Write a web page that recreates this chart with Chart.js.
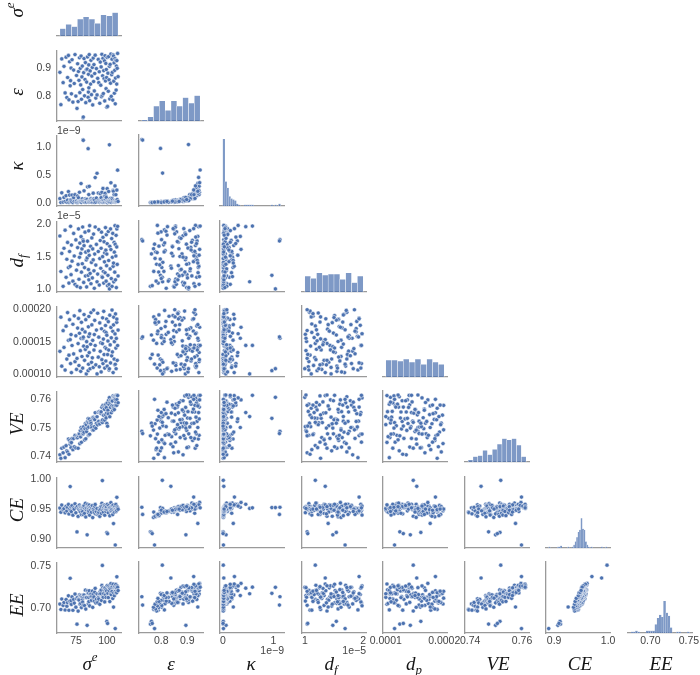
<!DOCTYPE html>
<html><head><meta charset="utf-8">
<script src="https://cdn.jsdelivr.net/npm/chart.js@4"></script>
<style>
html,body{margin:0;padding:0;background:#fff;}
body{width:700px;height:675px;overflow:hidden;position:relative;}
canvas{position:absolute;}
.lab{position:absolute;font-family:'Liberation Serif','DejaVu Serif',serif;font-style:italic;font-size:19px;color:#151515;white-space:nowrap;line-height:1;}
.lab sup{font-size:0.68em;position:relative;top:-0.15em;vertical-align:super;line-height:0;}
.lab sub{font-size:0.68em;vertical-align:sub;line-height:0;}
.off{position:absolute;font-family:'Liberation Sans',Arial,sans-serif;font-size:10.5px;color:#444;line-height:1;white-space:nowrap;}
</style></head><body>
<script>
// ---------------- data (one sample per index) ----------------
const sigmaE = [62.0,62.8,63.5,64.6,65.3,66.2,67.0,67.6,68.2,68.9,
69.3,69.8,70.3,70.6,71.0,71.3,71.8,72.5,73.1,73.6,
74.2,74.9,75.4,75.8,76.3,76.7,77.0,77.4,77.8,78.1,
78.5,78.8,79.1,79.4,79.8,80.1,80.4,80.7,80.9,81.2,
81.5,81.9,82.3,82.6,82.9,83.3,83.6,84.0,84.3,84.8,
85.0,85.1,85.3,85.4,85.7,86.0,86.4,86.8,87.1,87.5,
87.8,88.2,88.5,88.9,89.2,89.5,89.8,90.1,90.5,91.0,
91.5,92.0,92.5,93.0,93.4,93.8,94.2,94.6,95.0,95.3,
95.6,95.9,96.3,96.5,96.8,97.1,97.4,97.7,98.0,98.2,
98.5,98.8,99.1,99.3,99.5,99.7,99.9,100.2,100.5,100.8,
101.1,101.4,101.7,102.0,102.3,102.6,102.9,103.2,103.5,103.8,
104.1,104.4,104.7,105.0,105.3,105.5,105.8,106.0,106.3,106.5,
106.7,106.9,107.2,107.4,107.6,107.9,108.0,108.3,108.6,109.0];

const epsilon = [.884,.771,.931,.848,.905,.812,.937,.796,.866,.943,
.788,.921,.837,.855,.899,.809,.928,.780,.892,.845,
.946,.801,.873,.758,.914,.782,.887,.856,.935,.813,
.898,.840,.941,.790,.868,.906,.824,.725,.728,.883,
.932,.802,.859,.918,.778,.893,.850,.895,.938,.797,
.815,.877,.910,.830,.946,.785,.889,.843,.926,.806,
.871,.901,.770,.934,.852,.911,.819,.880,.944,.794,
.897,.805,.863,.929,.848,.886,.776,.920,.839,.903,
.799,.947,.804,.872,.933,.810,.890,.862,.924,.784,
.942,.854,.915,.827,.894,.866,.762,.936,.765,.881,
.818,.939,.858,.905,.791,.912,.846,.948,.800,.876,
.930,.884,.787,.945,.941,.853,.917,.811,.891,.932,
.774,.864,.926,.822,.906,.843,.925,.898,.950,.869];

// kappa in units of 1e-9
const kappa9 = [.075,.006,.179,.013,.096,.024,.127,.011,.047,.201,
.006,.138,.018,.051,.047,.018,.139,.005,.093,.025,
.146,.018,.030,.004,.122,.008,.090,.018,.189,.020,
.032,.025,.345,.008,.043,.072,.031,1.13,1.12,.027,
.215,.010,.050,.073,.010,.058,.013,.063,.286,.97,
.018,.033,.148,.011,.295,.018,.039,.030,.075,.012,
.056,.045,.010,.173,.043,.069,.008,.049,.453,.010,
.086,.53,.023,.175,.043,.026,.009,.164,.018,.092,
.020,.189,.008,.040,.258,.010,.031,.044,.121,.011,
.171,.049,.119,.010,.095,.030,.008,.254,.004,.031,
.026,.203,.016,1.04,.014,.074,.042,.359,.008,.061,
.078,.050,.016,.224,.206,.016,.146,.016,.042,.302,
.011,.020,.145,.025,.039,.029,.229,.058,.585,.024];

// d_f in units of 1e-5
const df5 = [1.82,1.27,1.55,1.04,1.63,1.91,1.18,1.46,1.72,1.33,
1.09,1.58,1.35,1.97,1.22,1.68,1.43,1.12,1.86,1.51,
1.07,1.76,1.29,1.04,1.64,1.38,1.93,1.15,1.49,1.71,
1.02,1.55,1.81,1.26,1.62,1.39,1.96,1.76,1.74,1.10,
1.67,1.33,1.88,1.20,1.57,1.45,1.03,1.48,1.74,1.21,
1.59,1.30,1.90,1.14,1.52,1.98,1.24,1.66,1.08,1.41,
1.79,1.17,1.62,1.45,1.85,1.28,1.01,1.54,1.96,1.37,
1.69,1.11,1.23,1.58,1.92,1.06,1.47,1.75,1.32,1.63,
1.88,1.19,1.18,1.50,1.80,1.27,1.09,1.73,1.42,1.56,
1.25,1.95,1.60,1.12,1.84,1.36,1.54,1.70,1.05,1.21,
1.89,1.44,1.07,1.00,1.66,1.31,1.93,1.61,1.16,1.78,
1.04,1.49,1.86,1.35,1.40,1.11,1.72,1.57,1.26,1.98,
1.69,1.14,1.51,1.83,1.02,1.65,1.93,1.38,1.97,1.20];

// d_p in units of 1e-4
const dp4 = [1.35,1.88,1.12,1.67,1.41,1.06,1.74,1.23,1.95,1.52,
1.29,1.84,1.53,1.16,1.61,1.02,1.44,1.77,1.31,1.90,
1.19,1.59,1.07,1.24,1.71,1.47,1.86,1.13,1.63,1.98,
1.36,1.04,1.55,1.80,1.27,1.69,1.09,1.55,1.57,1.43,
1.92,1.21,1.65,1.38,1.84,1.00,1.50,1.42,1.28,1.05,
1.73,1.15,1.58,1.89,1.33,1.62,1.08,1.46,1.95,1.18,
1.76,1.25,1.52,1.10,1.99,1.37,1.61,1.83,1.44,1.14,
1.68,1.00,1.94,1.26,1.57,1.11,1.79,1.35,1.48,1.03,
1.70,1.22,1.47,1.87,1.16,1.54,1.97,1.30,1.66,1.09,
1.41,1.75,1.20,1.64,1.39,1.85,1.60,1.12,1.30,1.51,
1.81,1.37,1.06,1.08,1.91,1.45,1.17,1.72,1.56,1.28,
1.99,1.34,1.66,1.02,1.76,1.88,1.23,1.50,1.14,1.62,
1.15,1.93,1.40,1.08,1.55,1.80,1.85,1.21,1.44,1.68];

const VE = [.7405,.7393,.7428,.7412,.7432,.7395,.7437,.7419,.7415,.7460,
.7407,.7455,.7442,.7449,.7430,.7448,.7462,.7423,.7462,.7433,
.7473,.7429,.7465,.7471,.7465,.7428,.7472,.7478,.7478,.7444,
.7490,.7468,.7500,.7449,.7495,.7478,.7477,.7487,.7479,.7503,
.7484,.7457,.7496,.7514,.7461,.7510,.7486,.7498,.7521,.7532,
.7473,.7517,.7502,.7475,.7530,.7477,.7516,.7522,.7515,.7506,
.7500,.7533,.7491,.7536,.7492,.7532,.7503,.7528,.7552,.7498,
.7515,.7538,.7510,.7554,.7522,.7556,.7513,.7554,.7550,.7555,
.7521,.7571,.7518,.7527,.7578,.7544,.7543,.7571,.7564,.7526,
.7579,.7545,.7581,.7534,.7570,.7551,.7515,.7586,.7505,.7561,
.7548,.7596,.7581,.7605,.7538,.7589,.7571,.7596,.7552,.7593,
.7577,.7593,.7560,.7611,.7575,.7567,.7607,.7563,.7610,.7603,
.7598,.7578,.7612,.7588,.7613,.7578,.7598,.7613,.7612,.7587];

const CE = [.952,.945,.957,.949,.951,.944,.955,.947,.953,.958,
.942,.950,.988,.948,.954,.946,.956,.940,.952,.950,
.959,.944,.953,.912,.955,.938,.951,.949,.957,.947,
.954,.945,.953,.941,.952,.950,.946,.953,.941,.954,
.956,.943,.951,.960,.937,.949,.952,.907,.958,.9525,
.944,.955,.950,.947,.957,.940,.953,.949,.954,.945,
.952,.956,.936,.951,.950,.947,.944,.955,.958,.942,
.946,.951,.941,.943,.945,.949,.938,.953,.950,.955,
.943,.960,.998,.948,.956,.945,.951,.953,.957,.940,
.955,.949,.952,.946,.950,.954,.911,.958,.909,.949,
.944,.956,.951,.9525,.939,.953,.947,.961,.948,.954,
.950,.956,.941,.957,.926,.949,.952,.945,.953,.955,
.890,.950,.958,.946,.951,.948,.970,.954,.952,.950];

const EE = [.7050,.6986,.7109,.7034,.7068,.6980,.7103,.7025,.7067,.7147,
.6977,.7082,.7353,.7062,.7089,.7046,.7134,.6977,.7104,.7061,
.7167,.7013,.7114,.6814,.7129,.6967,.7106,.7097,.7157,.7049,
.7146,.7057,.7148,.7009,.7135,.7104,.7073,.7134,.7037,.7158,
.7155,.7032,.7129,.7213,.6991,.7127,.7127,.6800,.7205,.7174,
.7054,.7179,.7127,.7079,.7206,.7028,.7163,.7138,.7169,.7093,
.7140,.7202,.7011,.7167,.7117,.7133,.7083,.7189,.7234,.7063,
.7109,.7169,.7067,.7124,.7108,.7171,.7047,.7199,.7173,.7215,
.7092,.7268,.7503,.7136,.7244,.7129,.7173,.7215,.7238,.7075,
.7238,.7160,.7217,.7127,.7192,.7204,.6846,.7267,.6822,.7176,
.7126,.7261,.7210,.7244,.7079,.7232,.7170,.7290,.7159,.7243,
.7198,.7258,.7115,.7283,.7014,.7181,.7242,.7148,.7252,.7260,
.6762,.7199,.7280,.7179,.7240,.7184,.7370,.7262,.7246,.7208];

// histogram counts
const histSigmaE = [7,11,9,16,18,16,12,20,19,22];
const histEps    = [1,4,14,19,10,19,14,22,17,24];
const histKappa  = [63,23,17,9,7,6,5,2,1,0,0,1,1,1,1,1,0,0,0,0,0,0,0,0,0,1,0,1,0,2];
const histDf     = [15,13,18,16,17,17,12,18,9,15];
const histDp     = [16,16,15,17,14,17,12,17,14,12];
const histVE     = [2,5,6,11,7,12,17,22,21,22,16,5];
const histCE     = [1,0,0,0,0,0,1,1,2,0, 0,0,0,1,0,0,1,3,6,10, 15,17,28,18,17,6,3,1,0,1, 0,0,0,0,0,0,1,0,0,1];
const histEE     = [1,1,2,1,0,0,0,2,2,2, 2,8,14,17,15,30,19,16,5,0, 0,1,1,0,0,0,1];
const histLo = [62, 0.725, 0, 1, 1, 0.7392, 0.890, 0.675];
const histHi = [109, 0.95, 1.14, 2, 2, 0.7616, 0.998, 0.7506];

// axis ranges (same units as the arrays)
const axisMin = [59.65, 0.714, -0.057, 0.952, 0.952, 0.738, 0.885, 0.671];
const axisMax = [111.35, 0.961, 1.21, 2.048, 2.048, 0.7627, 1.0035, 0.754];

// tick labels
const xTickVals = [[75,100],[0.8,0.9],[0,1],[1,2],[1,2],[0.74,0.76],[0.9,1.0],[0.70,0.75]];
const xTickLabels = [['75','100'],['0.8','0.9'],['0','1'],['1','2'],['0.0001','0.0002'],['0.74','0.76'],['0.9','1.0'],['0.70','0.75']];
const yTickVals = [[],[0.8,0.9],[0,0.5,1.0],[1.0,1.5,2.0],[1.0,1.5,2.0],[0.74,0.75,0.76],[0.90,0.95,1.00],[0.70,0.75]];
const yTickLabels = [[],['0.8','0.9'],['0.0','0.5','1.0'],['1.0','1.5','2.0'],['0.00010','0.00015','0.00020'],['0.74','0.75','0.76'],['0.90','0.95','1.00'],['0.70','0.75']];

const varLabels = ['σ<sup>e</sup>','ε','κ','d<sub>f</sub>','d<sub>p</sub>','VE','CE','EE'];
const showRowLabel = [true,true,true,true,false,true,true,true];

// ---------------- layout ----------------
const series = [sigmaE, epsilon, kappa9, df5, dp4, VE, CE, EE];
const histCounts = [histSigmaE, histEps, histKappa, histDf, histDp, histVE, histCE, histEE];
const COLX = [57,139,220,302,383,465,546,628];
const ROWY = [-35,50,135,221,306,391,477,562];
const PW = 64, PH = 71;
const ML = 56, MR = 26, MT = 12, MB = 24;
const HIST_YMAX = 67;
const BLUE = '#4C72B0';
const SPINE = '#9a9a9a';

Chart.defaults.font.family = "'Liberation Sans', Arial, sans-serif";
Chart.defaults.font.size = 10.5;
Chart.defaults.color = '#444';

function xScale(c, showTicks) {
  return {
    type: 'linear', position: 'bottom', min: axisMin[c], max: axisMax[c], offset: false,
    grid: {display: false, drawTicks: false, offset: false},
    border: {display: true, color: SPINE, width: 1.3},
    ticks: {display: showTicks, padding: 2, autoSkip: false, maxRotation: 0,
      callback: (v, i) => xTickLabels[c][i] ?? ''},
    afterBuildTicks: s => { s.ticks = xTickVals[c].map(v => ({value: v})); },
    afterFit: s => { s.height = MB; }
  };
}
function yScale(r, showTicks, diag) {
  if (diag) {
    return {type: 'linear', position: 'left', min: 0, max: HIST_YMAX,
      grid: {display: false, drawTicks: false}, border: {display: false},
      ticks: {display: false}, afterFit: s => { s.width = ML; }};
  }
  return {
    type: 'linear', position: 'left', min: axisMin[r], max: axisMax[r],
    grid: {display: false, drawTicks: false},
    border: {display: true, color: SPINE, width: 1.3},
    ticks: {display: showTicks, padding: 6, autoSkip: false,
      callback: (v, i) => yTickLabels[r][i] ?? ''},
    afterBuildTicks: s => { s.ticks = yTickVals[r].map(v => ({value: v})); },
    afterFit: s => { s.width = ML; }
  };
}

for (let r = 0; r < 8; r++) {
  for (let c = 0; c <= r; c++) {
    const cv = document.createElement('canvas');
    const W = ML + PW + MR, H = MT + PH + MB;
    cv.width = W; cv.height = H;
    cv.style.width = W + 'px'; cv.style.height = H + 'px';
    cv.style.left = (COLX[c] - ML) + 'px';
    cv.style.top = (ROWY[r] - MT) + 'px';
    document.body.appendChild(cv);
    const diag = r === c;
    let cfg;
    if (diag) {
      const counts = histCounts[c];
      const w = (histHi[c] - histLo[c]) / counts.length;
      const pxPerBin = w / (axisMax[c] - axisMin[c]) * PW;
      cfg = {
        type: 'bar',
        data: {datasets: [{
          data: counts.map((n, i) => ({x: histLo[c] + (i + 0.5) * w, y: n > 0 ? n : null})),
          backgroundColor: 'rgba(76,114,176,0.72)',
          borderColor: 'rgba(255,255,255,0.9)',
          borderWidth: pxPerBin > 3 ? 0.5 : 0.15,
          barThickness: pxPerBin
        }]},
        options: {}
      };
    } else {
      const xs = series[c], ys = series[r];
      cfg = {
        type: 'scatter',
        data: {datasets: [{
          data: xs.map((v, i) => ({x: v, y: ys[i]})),
          backgroundColor: BLUE, borderColor: '#ffffff',
          pointRadius: 2.1, pointBorderWidth: 0.5
        }]},
        options: {}
      };
    }
    cfg.options = {
      responsive: false, animation: false, devicePixelRatio: 1, events: [],
      layout: {padding: {left: 0, right: MR, top: MT, bottom: 0}},
      plugins: {legend: {display: false}, tooltip: {enabled: false}},
      scales: {x: xScale(c, r === 7), y: yScale(r, c === 0 && !diag, diag)}
    };
    new Chart(cv, cfg);
  }
}

// variable labels
const rowLabelY = [10, 92, 166, 261, 346, 424, 510, 605];
const colLabelX = [90, 171, 251, 331, 414, 498, 580, 661];
function addLabel(html, x, y, rot) {
  const d = document.createElement('div');
  d.className = 'lab';
  d.innerHTML = html;
  d.style.left = x + 'px'; d.style.top = y + 'px';
  d.style.transform = 'translate(-50%,-50%)' + (rot ? ' rotate(-90deg)' : '');
  document.body.appendChild(d);
}
for (let i = 0; i < 8; i++) {
  if (showRowLabel[i]) addLabel(varLabels[i], 16, rowLabelY[i], true);
  addLabel(varLabels[i], colLabelX[i], 663, false);
}
// offset texts
function addOff(txt, x, y, right) {
  const d = document.createElement('div');
  d.className = 'off'; d.textContent = txt;
  d.style.top = y + 'px';
  if (right) { d.style.right = (700 - x) + 'px'; } else { d.style.left = x + 'px'; }
  document.body.appendChild(d);
}
addOff('1e\u22129', 57, 125, false);
addOff('1e\u22125', 57, 210, false);
addOff('1e\u22129', COLX[2] + PW, 645, true);
addOff('1e\u22125', COLX[3] + PW, 645, true);
</script>
</body></html>
